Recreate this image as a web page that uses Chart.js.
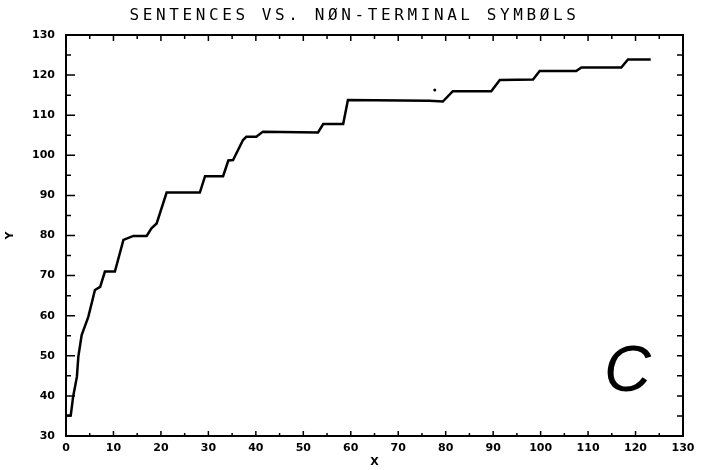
<!DOCTYPE html>
<html>
<head>
<meta charset="utf-8">
<script src="https://cdn.jsdelivr.net/npm/chart.js@4.4.1/dist/chart.umd.min.js"></script>
<style>
  html, body { margin: 0; padding: 0; background: #fff; }
  #wrap { width: 707px; height: 470px; }
</style>
</head>
<body>
<div id="wrap"><canvas id="chart"></canvas></div>
<script>
// Values (corners of the step curve)
const xValues = [0.1, 1.0, 1.5, 2.3, 2.6, 3.3, 4.7, 6.1, 7.2, 8.2, 10.3, 12.1, 14.2, 17.0, 18.0, 19.1,
  21.2, 28.2, 29.3, 33.1, 34.2, 35.2, 37.3, 38.0, 40.1, 41.5, 53.1, 54.2, 58.4, 59.4, 76.5, 79.4,
  81.5, 89.6, 91.4, 98.4, 99.8, 107.5, 108.6, 117.0, 118.4, 123.2];
const yValues = [35.1, 35.1, 39.8, 44.8, 49.8, 55.2, 59.7, 66.4, 67.2, 71.0, 71.0, 78.9, 79.9, 79.9, 81.8, 83.0,
  90.7, 90.7, 94.8, 94.8, 98.7, 98.8, 103.8, 104.6, 104.6, 105.9, 105.7, 107.8, 107.8, 113.8, 113.6, 113.4,
  116.0, 116.0, 118.8, 118.9, 121.0, 121.0, 121.9, 121.9, 123.9, 123.9];

// the lone stray dot above the long flat part
const strayX = [77.7];
const strayY = [116.3];

const titleText = 'SENTENCES VS. NØN-TERMINAL SYMBØLS';
const panelLetter = 'C';
const panelPos = { x: 118.3, y: 41.2 };

const tickFont = { family: '"DejaVu Sans"', size: 11, weight: 'bold' };

// Frame plus the little inward tick marks on all four sides
const frameTicks = {
  id: 'frameTicks',
  afterDatasetsDraw(chart) {
    const { ctx, chartArea: a, scales: { x, y } } = chart;
    ctx.save();
    ctx.strokeStyle = '#000';
    ctx.lineWidth = 2;
    ctx.strokeRect(a.left, a.top, a.right - a.left, a.bottom - a.top);
    ctx.lineWidth = 1.5;
    ctx.beginPath();
    x.ticks.forEach(t => {
      const px = x.getPixelForValue(t.value);
      const major = t.value % 10 === 0;
      ctx.moveTo(px, a.bottom);
      ctx.lineTo(px, a.bottom - (major ? 5 : 3));
      ctx.moveTo(px, a.top);
      ctx.lineTo(px, a.top + (major ? 6 : 4));
    });
    y.ticks.forEach(t => {
      const py = y.getPixelForValue(t.value);
      const major = t.value % 10 === 0;
      ctx.moveTo(a.left, py);
      ctx.lineTo(a.left + (major ? 9 : 5), py);
      ctx.moveTo(a.right, py);
      ctx.lineTo(a.right - 6, py);
    });
    ctx.stroke();
    ctx.restore();
  }
};

// Spaced-out plotter style title and the big panel letter
const textBits = {
  id: 'textBits',
  afterDraw(chart) {
    const { ctx, scales: { x, y } } = chart;
    ctx.save();
    ctx.fillStyle = '#000';
    ctx.font = '16px "DejaVu Sans Mono"';
    ctx.letterSpacing = '3.6px';
    ctx.textAlign = 'center';
    ctx.textBaseline = 'alphabetic';
    ctx.fillText(titleText, chart.width / 2 + 1, 20);
    ctx.letterSpacing = '0px';
    ctx.font = 'italic 65px "Liberation Sans"';
    ctx.fillText(panelLetter, x.getPixelForValue(panelPos.x), y.getPixelForValue(panelPos.y));
    ctx.restore();
  }
};

const ctx = document.getElementById('chart').getContext('2d');
const chart = new Chart(ctx, {
  type: 'line',
  data: {
    datasets: [{
      data: xValues.map((v, i) => ({ x: v, y: yValues[i] })),
      borderColor: '#000',
      borderWidth: 2.5,
      pointRadius: 0,
      tension: 0,
      fill: false
    }, {
      data: strayX.map((v, i) => ({ x: v, y: strayY[i] })),
      showLine: false,
      pointRadius: 1.5,
      pointBackgroundColor: '#000',
      pointBorderWidth: 0
    }]
  },
  plugins: [frameTicks, textBits],
  options: {
    responsive: true,
    maintainAspectRatio: false,
    animation: false,
    layout: { padding: { top: 35, right: 24, left: 0, bottom: 0 } },
    plugins: {
      legend: { display: false },
      title: { display: false },
      tooltip: { enabled: false }
    },
    scales: {
      x: {
        type: 'linear',
        min: 0,
        max: 130,
        grid: { display: false, drawTicks: false },
        border: { display: false },
        title: { display: true, text: 'X', color: '#000', font: tickFont, padding: { top: 0, bottom: 1 } },
        ticks: {
          stepSize: 5,
          autoSkip: false,
          maxRotation: 0,
          color: '#000',
          font: tickFont,
          padding: 6,
          callback: v => (v % 10 === 0 ? v : '')
        },
        afterFit: s => { s.height = 34; }
      },
      y: {
        min: 30,
        max: 130,
        grid: { display: false, drawTicks: false },
        border: { display: false },
        title: { display: true, text: 'Y', color: '#000', font: tickFont, padding: { top: 4, bottom: 0 } },
        ticks: {
          stepSize: 5,
          autoSkip: false,
          color: '#000',
          font: tickFont,
          padding: 11,
          callback: v => (v % 10 === 0 ? v : '')
        },
        afterFit: s => { s.width = 66; }
      }
    }
  }
});
</script>
</body>
</html>
